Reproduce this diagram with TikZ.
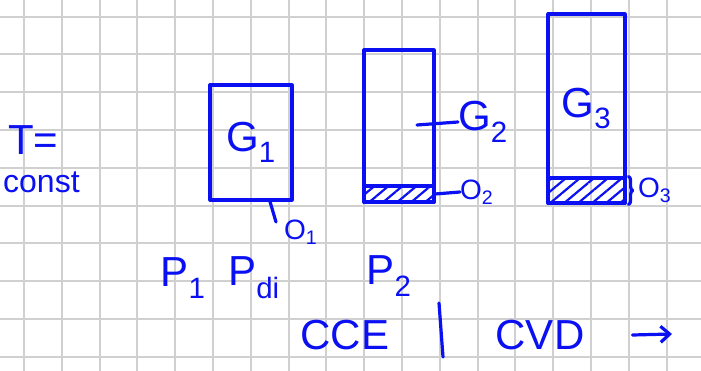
\documentclass[tikz,border=0pt]{standalone}
\usepackage{fontspec}
\newfontfamily\handfont{Liberation Sans}
\usetikzlibrary{patterns.meta,arrows.meta,decorations.pathreplacing}

\begin{document}
\begin{tikzpicture}[
    x=1pt,
    y=-1pt,
    line cap=round,
    line join=round,
    every node/.style={font=\handfont},
]
\definecolor{skInk}{HTML}{0A10F2}
\definecolor{skGrid}{HTML}{D0D0D0}

\tikzset{
    gridline/.style={draw=skGrid,line width=2pt},
    ink/.style={draw=skInk,line width=3.2pt},
    vessel/.style={ink,rectangle,inner sep=0pt,text=skInk,font=\handfont\fontsize{42}{46}\selectfont},
    deposit/.style={ink,rectangle,inner sep=0pt,pattern={Lines[angle=40,distance=9pt,line width=2.2pt]},pattern color=skInk},
    bigtext/.style={text=skInk,inner sep=0pt,font=\handfont\fontsize{42}{46}\selectfont},
    midtext/.style={text=skInk,inner sep=0pt,font=\handfont\fontsize{32}{36}\selectfont},
    smalltext/.style={text=skInk,inner sep=0pt,font=\handfont\fontsize{28}{32}\selectfont},
}

\useasboundingbox (0,0) rectangle (701,371);
\clip (0,0) rectangle (701,371);
\fill[white] (0,0) rectangle (701,371);

\foreach \k in {0,...,17} {
    \draw[gridline] ({24+37.8*\k},0) -- ({24+37.8*\k},371);
}
\foreach \k in {0,...,9} {
    \draw[gridline] (0,{16.7+37.8*\k}) -- (701,{16.7+37.8*\k});
}

\node[vessel,minimum width=82pt,minimum height=115pt] (g1) at (251,142.5) {G\textsubscript{1}};
\node[vessel,minimum width=70pt,minimum height=152pt] (g2) at (399,126) {};
\node[deposit,minimum width=70pt,minimum height=16pt] (o2fill) at (399,194) {};
\node[vessel,minimum width=77pt,minimum height=189pt] (g3) at (586.5,108.5) {G\textsubscript{3}};
\node[deposit,minimum width=77pt,minimum height=25pt] (o3fill) at (586.5,190.5) {};

\node[bigtext,anchor=base west] (tcond) at (8,155) {T=};
\node[midtext,anchor=base west] (tval) at (3,193) {const};

\node[bigtext,anchor=west] (g2lab) at (458,122) {G\textsubscript{2}};
\coordinate (g2mark) at (417,125);
\draw[ink] (g2mark) -- (g2lab.west);

\coordinate (o1foot) at (276,222);
\draw[ink] ([xshift=19pt]g1.south) -- (o1foot);
\node[smalltext,anchor=west] (o1lab) at (284,232) {O\textsubscript{1}};

\node[smalltext,anchor=west] (o2lab) at (460,192) {O\textsubscript{2}};
\draw[ink] (o2fill.east) -- (o2lab.west);

\draw[ink,decorate,decoration={brace,amplitude=4pt}] ([xshift=2pt]o3fill.north east) -- ([xshift=2pt]o3fill.south east);
\node[smalltext,anchor=west] (o3lab) at (638,190) {O\textsubscript{3}};

\node[bigtext] (p1) at (183,278) {P\textsubscript{1}};
\node[bigtext] (pdi) at (254,278) {P\textsubscript{di}};
\node[bigtext] (p2) at (389,276) {P\textsubscript{2}};

\node[bigtext] (cce) at (345,335) {CCE};
\coordinate (splitTop) at (439,303);
\coordinate (splitBot) at (443,357);
\draw[ink] (splitTop) -- (splitBot);
\node[bigtext] (cvd) at (540,335) {CVD};
\coordinate (flowEnd) at (672,334);
\draw[ink,-{Straight Barb[length=9pt,width=16pt]}] ([xshift=48pt]cvd.east) -- (flowEnd);
\end{tikzpicture}
\end{document}
